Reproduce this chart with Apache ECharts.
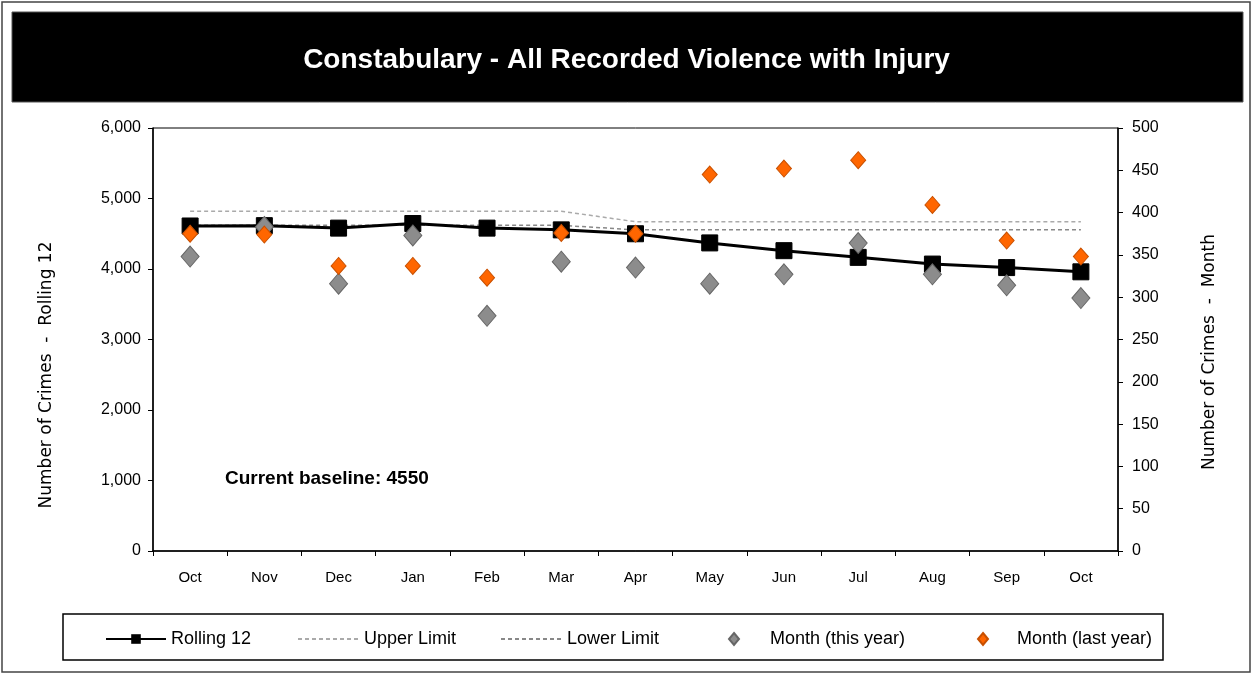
<!DOCTYPE html>
<html>
<head>
<meta charset="utf-8">
<script src="https://cdn.jsdelivr.net/npm/echarts@6/dist/echarts.min.js"></script>
<style>
html,body{margin:0;padding:0;background:#fff;}
#chart{width:1253px;height:675px;}
</style>
</head>
<body>
<div id="chart"></div>
<script>
var categories = ['Oct','Nov','Dec','Jan','Feb','Mar','Apr','May','Jun','Jul','Aug','Sep','Oct'];
var rolling12 = [4610, 4615, 4580, 4645, 4580, 4555, 4500, 4370, 4260, 4165, 4070, 4020, 3960];
var upperLimit = [4820, 4820, 4820, 4820, 4820, 4820, 4670, 4670, 4670, 4670, 4670, 4670, 4670];
var lowerLimit = [4620, 4620, 4620, 4620, 4620, 4620, 4555, 4555, 4555, 4555, 4555, 4555, 4555];
var monthThisYear = [348, 383, 316, 373, 278, 342, 335, 316, 327, 364, 327, 314, 299];
var monthLastYear = [375, 374, 337, 337, 323, 376, 375, 445, 452, 462, 409, 367, 348];
var leftTicks = [0, 1000, 2000, 3000, 4000, 5000, 6000];
var rightTicks = [0, 50, 100, 150, 200, 250, 300, 350, 400, 450, 500];
var baselineText = 'Current baseline: 4550';

var F = 'Liberation Sans, Arial, sans-serif';
var chart = echarts.init(document.getElementById('chart'));
var legendText = {fontFamily: F, fontSize: 18, color: '#000'};
function lg(name, left, w, h, extra) {
  var o = {data: [name], left: left, top: 630, padding: 0, itemWidth: w, itemHeight: h,
    textStyle: Object.assign({}, legendText, extra || {})};
  return o;
}
var lgUpper = lg('Upper Limit', 297, 61, 12);
lgUpper.data = [{name: 'Upper Limit', itemStyle: {opacity: 0}}];
var lgLower = lg('Lower Limit', 500, 61, 12);
lgLower.data = [{name: 'Lower Limit', itemStyle: {opacity: 0}}];
chart.setOption({
  backgroundColor: '#fff',
  animation: false,
  title: {
    text: 'Constabulary - All Recorded Violence with Injury',
    left: 'center', top: 41,
    textStyle: {color: '#fff', fontFamily: F, fontWeight: 'bold', fontSize: 28}
  },
  graphic: [
    {type: 'rect', z: -10, shape: {x: 2, y: 2, width: 1248, height: 670}, style: {fill: '#fff', stroke: '#444', lineWidth: 1.5}},
    {type: 'rect', z: -5, shape: {x: 12, y: 12, width: 1231, height: 90}, style: {fill: '#000', stroke: '#555', lineWidth: 1}},
    {type: 'rect', z: -5, shape: {x: 63, y: 614, width: 1100, height: 46}, style: {fill: '#fff', stroke: '#000', lineWidth: 1.5}},
    {type: 'text', x: 225, y: 479, style: {text: baselineText, fill: '#000', font: 'bold 19px ' + F, textVerticalAlign: 'middle'}},
    {type: 'text', x: 47, y: 375, rotation: Math.PI / 2, style: {text: 'Number of Crimes  -  Rolling 12', fill: '#000', font: '17px DejaVu Sans, sans-serif', textAlign: 'center', textVerticalAlign: 'middle'}},
    {type: 'text', x: 1210, y: 352, rotation: Math.PI / 2, style: {text: 'Number of Crimes  -  Month', fill: '#000', font: '17px DejaVu Sans, sans-serif', textAlign: 'center', textVerticalAlign: 'middle'}}
  ],
  legend: [
    lg('Rolling 12', 105, 60, 12),
    lgUpper,
    lgLower,
    lg('Month (this year)', 728, 10, 12, {padding: [0, 0, 0, 26]}),
    lg('Month (last year)', 977, 10, 12, {padding: [0, 0, 0, 24]})
  ],
  grid: {left: 153, right: 135, top: 128, bottom: 124, show: true, borderColor: '#000', borderWidth: 1},
  xAxis: {
    type: 'category', data: categories, boundaryGap: true,
    axisLine: {lineStyle: {color: '#000', width: 1.5}},
    axisTick: {show: true, length: 5, lineStyle: {color: '#000'}},
    axisLabel: {color: '#000', fontFamily: F, fontSize: 15, margin: 19}
  },
  yAxis: [
    {
      type: 'value', min: 0, max: 6000, interval: 1000, position: 'left',
      axisLine: {show: true, lineStyle: {color: '#000', width: 1.5}},
      axisTick: {show: true, length: 5, lineStyle: {color: '#000'}},
      splitLine: {show: false},
      axisLabel: {color: '#000', fontFamily: F, fontSize: 16, margin: 12,
        formatter: function (v) { return v.toLocaleString('en-US'); }}
    },
    {
      type: 'value', min: 0, max: 500, interval: 50, position: 'right',
      axisLine: {show: true, lineStyle: {color: '#000', width: 1.5}},
      axisTick: {show: true, length: 5, lineStyle: {color: '#000'}},
      splitLine: {show: false},
      axisLabel: {color: '#000', fontFamily: F, fontSize: 16, margin: 14}
    }
  ],
  series: [
    {name: 'Upper Limit', type: 'line', yAxisIndex: 0, data: upperLimit, symbol: 'none', z: 2,
      lineStyle: {color: '#aaaaaa', width: 1.5, type: [4, 3]}, itemStyle: {color: '#aaaaaa'}},
    {name: 'Lower Limit', type: 'line', yAxisIndex: 0, data: lowerLimit, symbol: 'none', z: 2,
      lineStyle: {color: '#888888', width: 1.5, type: [4, 3]}, itemStyle: {color: '#888888'}},
    {name: 'Rolling 12', type: 'line', yAxisIndex: 0, data: rolling12, symbol: 'rect', symbolSize: 16, z: 3,
      lineStyle: {color: '#000', width: 3}, itemStyle: {color: '#000', borderColor: '#000'}},
    {name: 'Month (this year)', type: 'scatter', yAxisIndex: 1, data: monthThisYear, symbol: 'diamond', symbolSize: [18, 21], z: 4,
      itemStyle: {color: '#8c8c8c', borderColor: '#666', borderWidth: 1, opacity: 1}},
    {name: 'Month (last year)', type: 'scatter', yAxisIndex: 1, data: monthLastYear, symbol: 'diamond', symbolSize: [15, 17], z: 5,
      itemStyle: {color: '#ff6600', borderColor: '#c85000', borderWidth: 1, opacity: 1}}
  ]
});
</script>
</body>
</html>
